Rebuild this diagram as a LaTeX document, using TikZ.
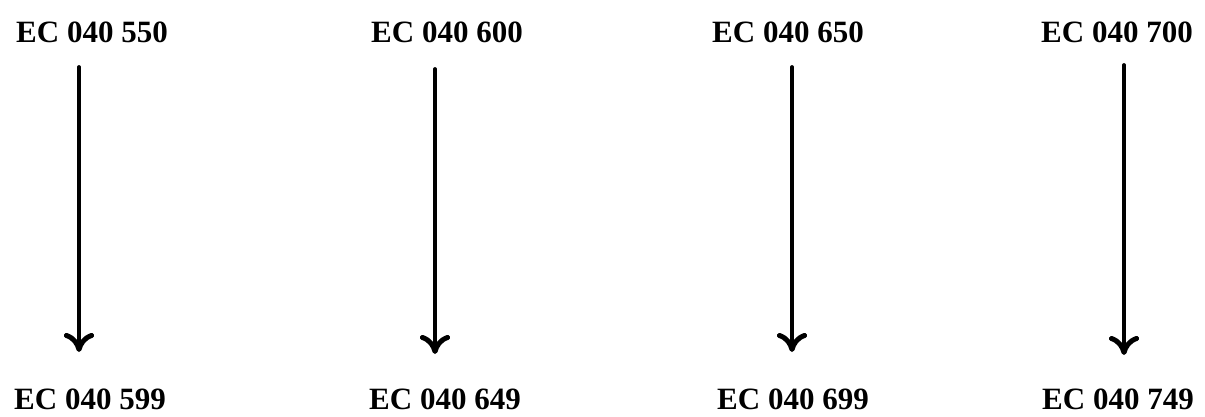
\documentclass[tikz,border=0pt]{standalone}
\usepackage{fontspec}
\setmainfont{Liberation Serif}
\usetikzlibrary{arrows.meta}
\begin{document}
\begin{tikzpicture}[x=1pt,y=1pt,
  lab/.style={font=\bfseries\fontsize{31}{31}\selectfont, inner sep=0pt, anchor=base},
  arr/.style={line width=3.8pt, line cap=round, -{To[length=19pt,width=30pt,line width=5pt,round]}}]
\useasboundingbox (0,0) rectangle (1205,-416);
\node[lab] (t1) at (92,-42) {EC 040 550};
\node[lab] (t2) at (447,-42) {EC 040 600};
\node[lab] (t3) at (788,-42) {EC 040 650};
\node[lab] (t4) at (1117,-42) {EC 040 700};
\node[lab] (b1) at (90,-409) {EC 040 599};
\node[lab] (b2) at (445,-409) {EC 040 649};
\node[lab] (b3) at (793,-409) {EC 040 699};
\node[lab] (b4) at (1118,-409) {EC 040 749};
\coordinate (s1) at (79,-67);  \coordinate (e1) at (79,-352);
\coordinate (s2) at (435,-69); \coordinate (e2) at (435,-354);
\coordinate (s3) at (792,-67); \coordinate (e3) at (792,-352);
\coordinate (s4) at (1124,-65); \coordinate (e4) at (1124,-355);
\draw[arr] (s1) -- (e1);
\draw[arr] (s2) -- (e2);
\draw[arr] (s3) -- (e3);
\draw[arr] (s4) -- (e4);
\end{tikzpicture}
\end{document}
